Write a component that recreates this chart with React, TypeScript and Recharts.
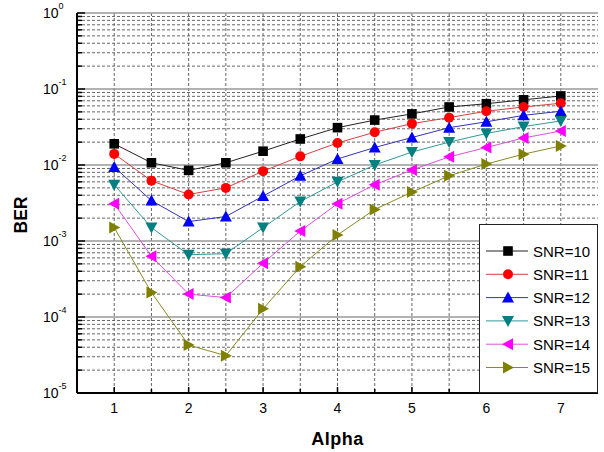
import React from 'react';
import { LineChart, Line, XAxis, YAxis, CartesianGrid, Legend } from 'recharts';

// x values (Alpha)
const alpha = [1, 1.5, 2, 2.5, 3, 3.5, 4, 4.5, 5, 5.5, 6, 6.5, 7];

// BER per SNR
const snr10 = [0.019, 0.0107, 0.0085, 0.0107, 0.0152, 0.022, 0.031, 0.039, 0.047, 0.058, 0.064, 0.072, 0.081];
const snr11 = [0.014, 0.0062, 0.0041, 0.005, 0.0083, 0.013, 0.0195, 0.027, 0.035, 0.042, 0.051, 0.058, 0.065];
const snr12 = [0.0094, 0.0034, 0.0018, 0.0021, 0.0039, 0.0072, 0.012, 0.017, 0.023, 0.031, 0.037, 0.045, 0.051];
const snr13 = [0.0055, 0.0015, 0.00066, 0.00068, 0.0015, 0.0033, 0.006, 0.01, 0.0148, 0.02, 0.026, 0.032, 0.038];
const snr14 = [0.0031, 0.00063, 0.0002, 0.00018, 0.00051, 0.00135, 0.0031, 0.0055, 0.0086, 0.0128, 0.017, 0.0227, 0.028];
const snr15 = [0.0015, 0.00021, 0.0000427, 0.000031, 0.000128, 0.00046, 0.0012, 0.0026, 0.0044, 0.0072, 0.0103, 0.0139, 0.0178];

const xTicks = [1, 1.5, 2, 2.5, 3, 3.5, 4, 4.5, 5, 5.5, 6, 6.5, 7];
const decadeTicks = [1e-5, 1e-4, 1e-3, 1e-2, 1e-1, 1];
const minorTicks = decadeTicks.slice(0, 5).flatMap((d) => [2, 3, 4, 5, 6, 7, 8, 9].map((k) => k * d));
const decadeExp: Record<string, string> = { '0.00001': '-5', '0.0001': '-4', '0.001': '-3', '0.01': '-2', '0.1': '-1', '1': '0' };

const series = [
  { key: 'snr10', name: 'SNR=10', values: snr10, color: '#000000', line: '#222222', shape: 'square' },
  { key: 'snr11', name: 'SNR=11', values: snr11, color: '#ff0000', line: '#d84040', shape: 'circle' },
  { key: 'snr12', name: 'SNR=12', values: snr12, color: '#0000ff', line: '#3333bb', shape: 'up' },
  { key: 'snr13', name: 'SNR=13', values: snr13, color: '#008080', line: '#339999', shape: 'down' },
  { key: 'snr14', name: 'SNR=14', values: snr14, color: '#ff00ff', line: '#e050e0', shape: 'left' },
  { key: 'snr15', name: 'SNR=15', values: snr15, color: '#808000', line: '#8a8a20', shape: 'right' },
];

const data = alpha.map((a, i) => {
  const row: any = { alpha: a };
  series.forEach((s) => { row[s.key] = s.values[i]; });
  return row;
});

const FONT = "'Liberation Sans', Arial, sans-serif";

const Marker = ({ cx, cy, shape, color }: any) => {
  const h = 6;
  const w = 5;
  switch (shape) {
    case 'square':
      return <rect x={cx - 4.8} y={cy - 4.8} width={9.6} height={9.6} fill={color} />;
    case 'circle':
      return <circle cx={cx} cy={cy} r={5} fill={color} />;
    case 'up':
      return <polygon points={`${cx},${cy - h} ${cx + h},${cy + w} ${cx - h},${cy + w}`} fill={color} />;
    case 'down':
      return <polygon points={`${cx},${cy + h} ${cx + h},${cy - w} ${cx - h},${cy - w}`} fill={color} />;
    case 'left':
      return <polygon points={`${cx - h},${cy} ${cx + w},${cy - h} ${cx + w},${cy + h}`} fill={color} />;
    default:
      return <polygon points={`${cx + h},${cy} ${cx - w},${cy - h} ${cx - w},${cy + h}`} fill={color} />;
  }
};

const isDecade = (v: number) => decadeTicks.some((d) => Math.abs(v / d - 1) < 1e-6);

const LeftTick = ({ x, y, payload }: any) => {
  const major = isDecade(payload.value);
  return (
    <g>
      <line x1={x} x2={x + (major ? 8 : 5)} y1={y} y2={y} stroke="#000" strokeWidth={1.5} />
      {major && (
        <text x={x - 34} y={y + 5} fontSize={14} fontFamily={FONT} fill="#000">
          10
          <tspan fontSize={9} dy={-9}>{decadeExp[String(payload.value)]}</tspan>
        </text>
      )}
    </g>
  );
};

const RightTick = ({ x, y, payload }: any) => {
  const major = isDecade(payload.value);
  return <line x1={x} x2={x - (major ? 8 : 5)} y1={y} y2={y} stroke="#000" strokeWidth={1.5} />;
};

const BottomTick = ({ x, y, payload }: any) => {
  const major = Number.isInteger(payload.value);
  return (
    <g>
      <line x1={x} x2={x} y1={y} y2={y - (major ? 6 : 4)} stroke="#000" strokeWidth={1.5} />
      {major && (
        <text x={x} y={y + 20} textAnchor="middle" fontSize={14} fontFamily={FONT} fill="#000">
          {payload.value}
        </text>
      )}
    </g>
  );
};

const TopTick = ({ x, y, payload }: any) => {
  const major = Number.isInteger(payload.value);
  return <line x1={x} x2={x} y1={y} y2={y + (major ? 6 : 4)} stroke="#000" strokeWidth={1.5} />;
};

const BerLabel = ({ viewBox }: any) => {
  const cx = viewBox.x + 21;
  const cy = viewBox.y + viewBox.height / 2 + 12;
  return (
    <text
      x={cx}
      y={cy}
      transform={`rotate(-90, ${cx}, ${cy})`}
      textAnchor="middle"
      dominantBaseline="central"
      fontFamily={FONT}
      fontWeight="bold"
      fontSize={17.5}
      fill="#000"
    >
      BER
    </text>
  );
};

const LegendBox = ({ payload }: any) => (
  <div style={{ width: 119, height: 169, boxSizing: 'border-box', border: '1.5px solid #222', background: '#fff' }}>
    <svg width={116} height={166}>
      {(payload || []).map((entry: any, i: number) => {
        const s = series.find((x) => x.key === entry.dataKey) || series[i];
        const cy = 26 + i * 23.3;
        return (
          <g key={s.key}>
            <line x1={6} x2={48} y1={cy} y2={cy} stroke={s.line} strokeWidth={1} />
            <Marker cx={28} cy={cy} shape={s.shape} color={s.color} />
            <text x={53} y={cy + 5.5} fontSize={15} fontFamily={FONT} fill="#000">{s.name}</text>
          </g>
        );
      })}
    </svg>
  </div>
);

export default function App() {
  return (
    <div style={{ position: 'absolute', left: 0, top: 0, background: '#fff' }}>
      <LineChart width={604} height={452} data={data} margin={{ top: 13, right: 6, bottom: 0, left: 0 }}>
        <CartesianGrid
          horizontalValues={minorTicks}
          verticalValues={xTicks}
          stroke="#666"
          strokeDasharray="3 2"
          strokeWidth={1}
        />
        <CartesianGrid horizontalValues={decadeTicks} vertical={false} stroke="#999" strokeWidth={1.5} />
        <XAxis
          dataKey="alpha"
          type="number"
          domain={[0.5, 7.5]}
          allowDataOverflow
          ticks={xTicks}
          interval={0}
          height={59}
          tickLine={false}
          tickSize={0}
          tickMargin={0}
          tick={<BottomTick />}
          axisLine={{ stroke: '#000', strokeWidth: 2 }}
          label={{ value: 'Alpha', position: 'insideBottom', offset: 7, style: { fontFamily: FONT, fontWeight: 'bold', fontSize: 18, fill: '#000', letterSpacing: 0.5 } }}
        />
        <XAxis
          xAxisId="top"
          dataKey="alpha"
          orientation="top"
          type="number"
          domain={[0.5, 7.5]}
          allowDataOverflow
          ticks={xTicks}
          interval={0}
          height={0}
          tickLine={false}
          tickSize={0}
          tickMargin={0}
          tick={<TopTick />}
          axisLine={{ stroke: '#000', strokeWidth: 2 }}
        />
        <YAxis
          scale="log"
          type="number"
          domain={[1e-5, 1]}
          allowDataOverflow
          ticks={[...decadeTicks, ...minorTicks]}
          interval={0}
          width={77}
          tickLine={false}
          tickSize={0}
          tickMargin={0}
          tick={<LeftTick />}
          axisLine={{ stroke: '#000', strokeWidth: 2 }}
          label={<BerLabel />}
        />
        <YAxis
          yAxisId="right"
          orientation="right"
          scale="log"
          type="number"
          domain={[1e-5, 1]}
          allowDataOverflow
          ticks={[...decadeTicks, ...minorTicks]}
          interval={0}
          width={0}
          tickLine={false}
          tickSize={0}
          tickMargin={0}
          tick={<RightTick />}
          axisLine={{ stroke: '#000', strokeWidth: 2 }}
        />
        {series.map((s) => (
          <Line
            key={s.key}
            dataKey={s.key}
            name={s.name}
            type="linear"
            stroke={s.line}
            strokeWidth={1}
            isAnimationActive={false}
            dot={(p: any) => <Marker key={`${s.key}-${p.index}`} cx={p.cx} cy={p.cy} shape={s.shape} color={s.color} />}
            activeDot={false}
          />
        ))}
        <Legend
          layout="vertical"
          align="center"
          verticalAlign="middle"
          content={<LegendBox />}
          wrapperStyle={{ left: 479, top: 224, width: 119, height: 169 }}
        />
      </LineChart>
    </div>
  );
}
